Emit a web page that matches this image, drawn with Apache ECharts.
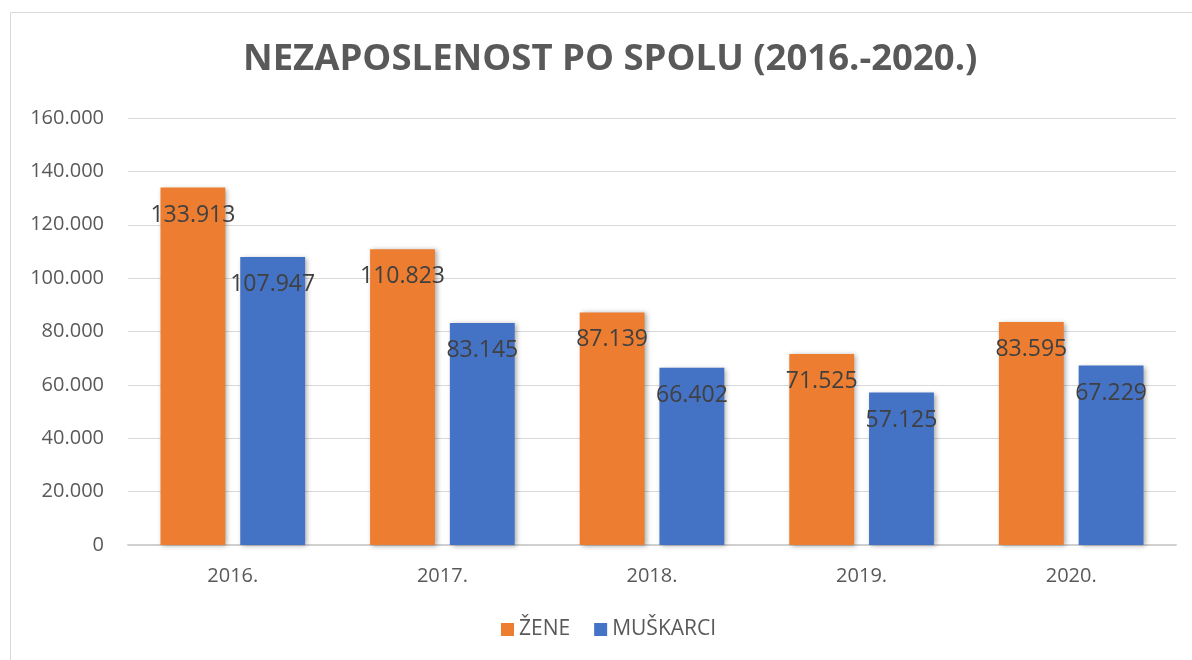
<!DOCTYPE html>
<html>
<head>
<meta charset="utf-8">
<script src="https://cdn.jsdelivr.net/npm/echarts@6/dist/echarts.min.js"></script>
<style>
  html, body { margin: 0; padding: 0; background: #fff; }
  #chart { width: 1192px; height: 660px; }
</style>
</head>
<body>
<div id="chart"></div>
<script>
// Nezaposlenost po spolu
const years = ['2016.', '2017.', '2018.', '2019.', '2020.'];
const zene = [133913, 110823, 87139, 71525, 83595];
const muskarci = [107947, 83145, 66402, 57125, 67229];
const axisTicks = { min: 0, max: 160000, interval: 20000 };

// format s točkom kao separatorom tisućica
const fmt = (v) => String(v).replace(/\B(?=(\d{3})+(?!\d))/g, '.');

const FONT = '"Open Sans", "Noto Sans", sans-serif';
const TEXT = '#595959';

const chart = echarts.init(document.getElementById('chart'));

const barShadow = {
    shadowBlur: 5,
    shadowColor: 'rgba(0,0,0,0.35)',
    shadowOffsetX: 2,
    shadowOffsetY: 1
};

const labelStyle = {
    show: true,
    position: 'insideTop',
    distance: 16,
    color: '#404040',
    fontSize: 23,
    fontFamily: FONT,
    formatter: (p) => fmt(p.value)
};

chart.setOption({
    backgroundColor: '#fff',
    animation: false,
    title: {
        text: 'NEZAPOSLENOST PO SPOLU (2016.-2020.)',
        left: 243,
        top: 41,
        padding: 0,
        textStyle: { color: TEXT, fontSize: 36.5, fontWeight: 'bold', fontFamily: FONT }
    },
    legend: {
        data: ['ŽENE', 'MUŠKARCI'],
        top: 619,
        left: 501,
        padding: 0,
        itemWidth: 13,
        itemHeight: 13,
        itemGap: 24,
        icon: 'rect',
        textStyle: { color: TEXT, fontSize: 21, fontFamily: FONT }
    },
    grid: { left: 128, right: 16, top: 118, bottom: 115 },
    xAxis: {
        type: 'category',
        data: years,
        axisTick: { show: false },
        axisLine: { lineStyle: { color: '#d0d0d0', width: 2 } },
        axisLabel: { color: TEXT, fontSize: 20, fontFamily: FONT, margin: 21 }
    },
    yAxis: {
        type: 'value',
        min: axisTicks.min,
        max: axisTicks.max,
        interval: axisTicks.interval,
        axisLine: { show: false },
        axisTick: { show: false },
        splitLine: { lineStyle: { color: '#d9d9d9', width: 1 } },
        axisLabel: { color: TEXT, fontSize: 20, fontFamily: FONT, margin: 24, formatter: fmt }
    },
    series: [
        {
            name: 'ŽENE',
            type: 'bar',
            data: zene,
            barGap: '23%',
            barCategoryGap: '31%',
            itemStyle: Object.assign({ color: '#ED7D31' }, barShadow),
            label: labelStyle
        },
        {
            name: 'MUŠKARCI',
            type: 'bar',
            data: muskarci,
            itemStyle: Object.assign({ color: '#4472C4' }, barShadow),
            label: labelStyle
        }
    ],
    graphic: [
        { type: 'line', shape: { x1: 10.5, y1: 12.5, x2: 1192, y2: 12.5 }, style: { stroke: '#d9d9d9', lineWidth: 1 } },
        { type: 'line', shape: { x1: 10.5, y1: 12.5, x2: 10.5, y2: 660 }, style: { stroke: '#d9d9d9', lineWidth: 1 } }
    ]
});
</script>
</body>
</html>
